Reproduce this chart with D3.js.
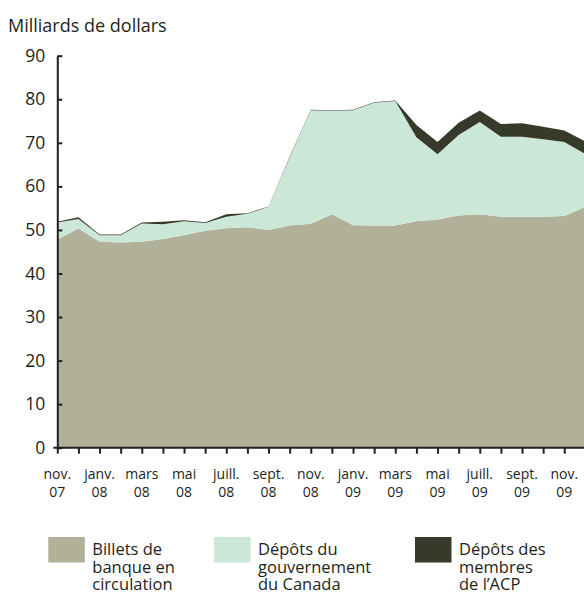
<html>
<head>
<meta charset="utf-8">
<title>Dépôts et billets</title>
<script type="text/javascript" src="https://cdn.jsdelivr.net/npm/d3@7"></script>
<style>
  * { margin: 0; padding: 0; }
  body { background: #ffffff; }
  svg text { font-family: "Open Sans", sans-serif; fill: #231f20; }
</style>
</head>
<body>
<div id="chart"></div>
<script type="text/javascript">
// monthly points, nov. 07 -> déc. 09
var months = ["nov.", "déc.", "janv.", "févr.", "mars", "avr.", "mai", "juin", "juill.", "août", "sept.", "oct.",
              "nov.", "déc.", "janv.", "févr.", "mars", "avr.", "mai", "juin", "juill.", "août", "sept.", "oct.",
              "nov.", "déc."];
var years = ["07", "07", "08", "08", "08", "08", "08", "08", "08", "08", "08", "08",
             "08", "08", "09", "09", "09", "09", "09", "09", "09", "09", "09", "09",
             "09", "09"];

var billets = [47.8, 50.3, 47.3, 47.1, 47.3, 47.9, 48.8, 49.8, 50.4, 50.6, 50.0, 51.0,
               51.4, 53.6, 51.1, 51.0, 51.0, 52.0, 52.4, 53.3, 53.6, 53.0, 53.0, 53.0,
               53.2, 55.3];
var gouvernement = [3.9, 2.2, 1.5, 1.7, 4.2, 3.4, 3.2, 1.8, 2.6, 3.1, 5.3, 15.6,
                    26.1, 23.7, 26.4, 28.2, 28.6, 19.3, 15.0, 18.5, 21.2, 18.4, 18.4, 17.8,
                    17.0, 12.1];
var acp = [0.2, 0.4, 0.15, 0.15, 0.2, 0.6, 0.2, 0.15, 0.6, 0.15, 0.1, 0.2,
           0.1, 0.1, 0.1, 0.1, 0.1, 2.8, 2.8, 2.8, 2.6, 2.9, 3.1, 2.9,
           2.6, 2.9];

var yTicks = [0, 10, 20, 30, 40, 50, 60, 70, 80, 90];

var seriesKeys = ["billets", "gouvernement", "acp"];
var seriesNames = [["Billets de", "banque en", "circulation"],
                   ["Dépôts du", "gouvernement", "du Canada"],
                   ["Dépôts des", "membres", "de l’ACP"]];
var colors = ["#b1b098", "#cbe7d8", "#363a2a"];
var ink = "#231f20";

(function() {
  var width = 584, height = 600;
  var svg = d3.select("#chart").append("svg")
      .attr("width", width)
      .attr("height", height);

  var rows = months.map(function(m, i) {
    return { i: i, billets: billets[i], gouvernement: gouvernement[i], acp: acp[i] };
  });

  var x = d3.scalePoint()
      .domain(d3.range(months.length))
      .range([57.3, 585.4]);
  var y = d3.scaleLinear()
      .domain([0, 90])
      .range([447.7, 55.7]);

  var stacked = d3.stack().keys(seriesKeys)(rows);

  var area = d3.area()
      .x(function(d) { return x(d.data.i); })
      .y0(function(d) { return y(d[0]); })
      .y1(function(d) { return y(d[1]); });

  svg.selectAll("path.layer").data(stacked)
    .enter().append("path")
      .attr("class", "layer")
      .attr("d", area)
      .attr("fill", function(d, k) { return colors[k]; });

  // title
  svg.append("text")
      .attr("x", 8)
      .attr("y", 32)
      .attr("font-size", "18px")
      .text("Milliards de dollars");

  // y axis, ticks pointing inside
  var yAxis = svg.append("g")
      .attr("transform", "translate(" + x(0) + ",0)")
      .call(d3.axisLeft(y).tickValues(yTicks).tickSize(-5).tickSizeOuter(0).tickPadding(12));
  yAxis.selectAll("path, line").attr("stroke", ink).attr("stroke-width", 2);
  yAxis.selectAll("text").attr("font-size", "17.5px").attr("font-family", "Open Sans").attr("fill", ink);

  // x axis, a tick per month, labels every two months
  var xAxis = svg.append("g")
      .attr("transform", "translate(0," + y(0) + ")")
      .call(d3.axisBottom(x).tickValues(d3.range(months.length - 1)).tickSize(6).tickFormat(""));
  xAxis.select(".domain").remove();
  xAxis.selectAll("line").attr("stroke", ink).attr("stroke-width", 2);
  xAxis.append("line")
      .attr("x1", x(0) - 4)
      .attr("x2", width)
      .attr("stroke", ink)
      .attr("stroke-width", 2);

  var labelIdx = d3.range(0, months.length - 1, 2);
  var lab = svg.selectAll("text.xlab").data(labelIdx)
    .enter().append("text")
      .attr("class", "xlab")
      .attr("text-anchor", "middle")
      .attr("font-size", "14px");
  lab.append("tspan")
      .attr("x", function(i) { return x(i); })
      .attr("y", 479)
      .text(function(i) { return months[i]; });
  lab.append("tspan")
      .attr("x", function(i) { return x(i); })
      .attr("y", 497)
      .text(function(i) { return years[i]; });

  // legend
  var legendX = [48.3, 214, 415];
  var leg = svg.selectAll("g.leg").data(seriesKeys)
    .enter().append("g")
      .attr("class", "leg")
      .attr("transform", function(d, k) { return "translate(" + legendX[k] + ",537)"; });
  leg.append("rect")
      .attr("width", 36.5)
      .attr("height", 25.5)
      .attr("fill", function(d, k) { return colors[k]; });
  var lt = leg.append("text")
      .attr("font-size", "16.5px");
  lt.selectAll("tspan")
    .data(function(d, k) { return seriesNames[k]; })
    .enter().append("tspan")
      .attr("x", 44)
      .attr("y", function(s, j) { return 18 + j * 17.5; })
      .text(function(s) { return s; });
})();
</script>
</body>
</html>
